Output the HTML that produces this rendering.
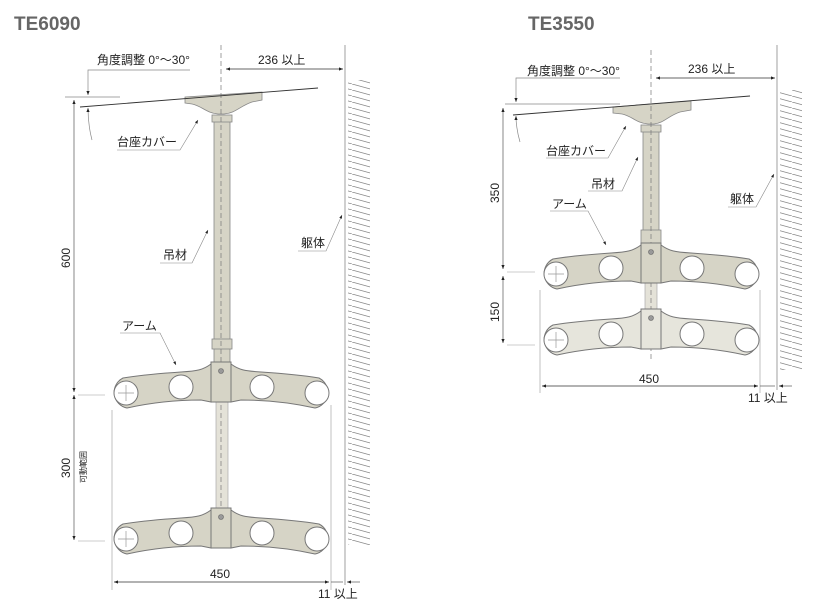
<!DOCTYPE html>
<html><head><meta charset="utf-8"><style>
html,body{margin:0;padding:0;background:#fff;}
svg{display:block;}
text{font-family:"Liberation Sans","Noto Sans CJK JP",sans-serif;fill:#222;}
</style></head><body>
<svg width="825" height="603" viewBox="0 0 825 603" xmlns="http://www.w3.org/2000/svg">
<defs>
<marker id="a" viewBox="0 0 10 10" refX="10" refY="5" markerWidth="6" markerHeight="6" orient="auto-start-reverse"><path d="M0,1 L10,5 L0,9 z" fill="#222"/></marker>
<g id="arm">
  <path d="M-10,2 C-18,8 -24,9 -40,10 C-70,12 -86,14 -98,16 A16 16 0 0 0 -94,46 C-76,42 -50,38 -20,38 L-10,40 Z" stroke="#777" stroke-width="1"/>
  <path d="M10,2 C18,8 24,9 40,10 C70,12 86,14 98,16 A16 16 0 0 1 94,46 C76,42 50,38 20,38 L10,40 Z" stroke="#777" stroke-width="1"/>
  <rect x="-10" y="0" width="20" height="40" stroke="#777" stroke-width="1"/>
  <circle cx="-95" cy="31" r="12" fill="#fff" stroke="#777"/>
  <circle cx="-40" cy="25" r="12" fill="#fff" stroke="#777"/>
  <circle cx="41" cy="25" r="12" fill="#fff" stroke="#777"/>
  <circle cx="96" cy="31" r="12" fill="#fff" stroke="#777"/>
  <path d="M-103,31 H-87 M-95,23 V39" stroke="#999" stroke-width="0.7"/>
  <circle cx="0" cy="9" r="2.5" fill="#999" stroke="#666" stroke-width="0.6"/>
</g>
<pattern id="h" width="22" height="6" patternUnits="userSpaceOnUse"><path d="M0,0 L22,6" stroke="#888" stroke-width="0.8"/></pattern>
</defs>

<text x="14" y="30" font-size="19" font-weight="bold" style="fill:#666">TE6090</text>
<text x="528" y="30" font-size="19" font-weight="bold" style="fill:#666">TE3550</text>

<!-- LEFT -->
<g>
<line x1="345" y1="45" x2="345" y2="585" stroke="#888" stroke-width="0.8"/>
<rect x="348" y="80" width="22" height="465" fill="url(#h)"/>
<rect x="216" y="400" width="12" height="112" fill="#e4e2d8" stroke="#aaa" stroke-width="0.7"/>
<rect x="214" y="120" width="16" height="245" fill="#d6d4c6" stroke="#888" stroke-width="0.8"/>
<rect x="212" y="115" width="20" height="7" fill="#d6d4c6" stroke="#888" stroke-width="0.8"/>
<rect x="212" y="339" width="20" height="10" fill="#d6d4c6" stroke="#888" stroke-width="0.8"/>
<path d="M185,97 L262,92 L262,100 L252,102 C240,106 236,113 224,114 L218,114 C206,113 202,106 192,104 L185,103 Z" fill="#d6d4c6" stroke="#888" stroke-width="0.8"/>
<line x1="221" y1="45" x2="221" y2="545" stroke="#777" stroke-width="0.7" stroke-dasharray="5,3"/>
<line x1="80" y1="107" x2="318" y2="88" stroke="#333" stroke-width="0.9"/>
<use href="#arm" x="221" y="362" fill="#d6d4c6"/>
<use href="#arm" x="221" y="508" fill="#d6d4c6"/>
<text x="97" y="64" font-size="12">角度調整 0°～30°</text>
<path d="M190,70 H88 V95" fill="none" stroke="#888" stroke-width="0.7" marker-end="url(#a)"/>
<line x1="65" y1="97" x2="120" y2="97" stroke="#888" stroke-width="0.7"/>
<path d="M92,140 Q88,125 88,108" fill="none" stroke="#888" stroke-width="0.7" marker-end="url(#a)"/>
<line x1="226" y1="69" x2="343" y2="69" stroke="#333" stroke-width="0.7" marker-start="url(#a)" marker-end="url(#a)"/>
<text x="258" y="64" font-size="12">236 以上</text>
<line x1="74" y1="100" x2="74" y2="392" stroke="#555" stroke-width="0.7" marker-start="url(#a)" marker-end="url(#a)"/>
<line x1="74" y1="395" x2="74" y2="540" stroke="#555" stroke-width="0.7" marker-start="url(#a)" marker-end="url(#a)"/>
<line x1="78" y1="395" x2="105" y2="395" stroke="#999" stroke-width="0.6"/>
<line x1="78" y1="541" x2="105" y2="541" stroke="#999" stroke-width="0.6"/>
<text transform="translate(70,268) rotate(-90)" font-size="12">600</text>
<text transform="translate(70,478) rotate(-90)" font-size="12">300</text>
<text transform="translate(86,483) rotate(-90)" font-size="8">可動範囲</text>
<line x1="112" y1="410" x2="112" y2="590" stroke="#999" stroke-width="0.6"/>
<line x1="331" y1="405" x2="331" y2="590" stroke="#999" stroke-width="0.6"/>
<line x1="114" y1="582" x2="329" y2="582" stroke="#333" stroke-width="0.7" marker-start="url(#a)" marker-end="url(#a)"/>
<text x="210" y="578" font-size="12">450</text>
<line x1="331" y1="582" x2="343" y2="582" stroke="#555" stroke-width="0.7"/>
<line x1="360" y1="582" x2="347" y2="582" stroke="#555" stroke-width="0.7" marker-end="url(#a)"/>
<text x="318" y="598" font-size="12">11 以上</text>
<text x="117" y="146" font-size="12">台座カバー</text>
<path d="M117,150 H180 L198,120" fill="none" stroke="#888" stroke-width="0.6" marker-end="url(#a)"/>
<text x="163" y="259" font-size="12">吊材</text>
<path d="M160,263 H192 L208,230" fill="none" stroke="#888" stroke-width="0.6" marker-end="url(#a)"/>
<text x="301" y="247" font-size="12">躯体</text>
<path d="M298,251 H326 L342,215" fill="none" stroke="#888" stroke-width="0.6" marker-end="url(#a)"/>
<text x="122" y="330" font-size="12">アーム</text>
<path d="M120,333 H160 L176,365" fill="none" stroke="#888" stroke-width="0.6" marker-end="url(#a)"/>
</g>

<!-- RIGHT -->
<g>
<line x1="777" y1="45" x2="777" y2="390" stroke="#888" stroke-width="0.8"/>
<rect x="780" y="90" width="22" height="280" fill="url(#h)"/>
<rect x="645" y="280" width="12" height="40" fill="#e4e2d8" stroke="#aaa" stroke-width="0.7"/>
<rect x="643" y="130" width="16" height="115" fill="#d6d4c6" stroke="#888" stroke-width="0.8"/>
<rect x="641" y="125" width="20" height="7" fill="#d6d4c6" stroke="#888" stroke-width="0.8"/>
<rect x="641" y="230" width="20" height="14" fill="#d6d4c6" stroke="#888" stroke-width="0.8"/>
<path d="M613,107 L691,101 L691,110 L680,112 C668,116 664,123 654,124 L648,124 C636,123 632,116 622,114 L613,113 Z" fill="#d6d4c6" stroke="#888" stroke-width="0.8"/>
<line x1="651" y1="50" x2="651" y2="360" stroke="#777" stroke-width="0.7" stroke-dasharray="5,3"/>
<line x1="513" y1="115" x2="750" y2="96" stroke="#333" stroke-width="0.9"/>
<use href="#arm" x="651" y="243" fill="#d6d4c6"/>
<use href="#arm" x="651" y="309" fill="#e6e5dc"/>
<text x="527" y="75" font-size="12">角度調整 0°～30°</text>
<path d="M620,78 H516 V102" fill="none" stroke="#888" stroke-width="0.7" marker-end="url(#a)"/>
<line x1="505" y1="104" x2="620" y2="104" stroke="#888" stroke-width="0.7"/>
<path d="M520,142 Q516,128 516,116" fill="none" stroke="#888" stroke-width="0.7" marker-end="url(#a)"/>
<line x1="656" y1="78" x2="775" y2="78" stroke="#333" stroke-width="0.7" marker-start="url(#a)" marker-end="url(#a)"/>
<text x="688" y="73" font-size="12">236 以上</text>
<line x1="503" y1="108" x2="503" y2="269" stroke="#555" stroke-width="0.7" marker-start="url(#a)" marker-end="url(#a)"/>
<line x1="503" y1="276" x2="503" y2="343" stroke="#555" stroke-width="0.7" marker-start="url(#a)" marker-end="url(#a)"/>
<line x1="507" y1="272" x2="535" y2="272" stroke="#999" stroke-width="0.6"/>
<line x1="507" y1="345" x2="535" y2="345" stroke="#999" stroke-width="0.6"/>
<text transform="translate(499,203) rotate(-90)" font-size="12">350</text>
<text transform="translate(499,322) rotate(-90)" font-size="12">150</text>
<line x1="540" y1="290" x2="540" y2="393" stroke="#999" stroke-width="0.6"/>
<line x1="760" y1="290" x2="760" y2="393" stroke="#999" stroke-width="0.6"/>
<line x1="542" y1="386" x2="758" y2="386" stroke="#333" stroke-width="0.7" marker-start="url(#a)" marker-end="url(#a)"/>
<text x="639" y="383" font-size="12">450</text>
<line x1="760" y1="386" x2="775" y2="386" stroke="#555" stroke-width="0.7"/>
<line x1="792" y1="386" x2="779" y2="386" stroke="#555" stroke-width="0.7" marker-end="url(#a)"/>
<text x="748" y="402" font-size="12">11 以上</text>
<text x="546" y="155" font-size="12">台座カバー</text>
<path d="M546,158 H608 L626,126" fill="none" stroke="#888" stroke-width="0.6" marker-end="url(#a)"/>
<text x="591" y="188" font-size="12">吊材</text>
<path d="M588,191 H622 L638,157" fill="none" stroke="#888" stroke-width="0.6" marker-end="url(#a)"/>
<text x="730" y="203" font-size="12">躯体</text>
<path d="M728,207 H756 L774,174" fill="none" stroke="#888" stroke-width="0.6" marker-end="url(#a)"/>
<text x="552" y="208" font-size="12">アーム</text>
<path d="M550,211 H588 L606,245" fill="none" stroke="#888" stroke-width="0.6" marker-end="url(#a)"/>
</g>
</svg>
</body></html>
